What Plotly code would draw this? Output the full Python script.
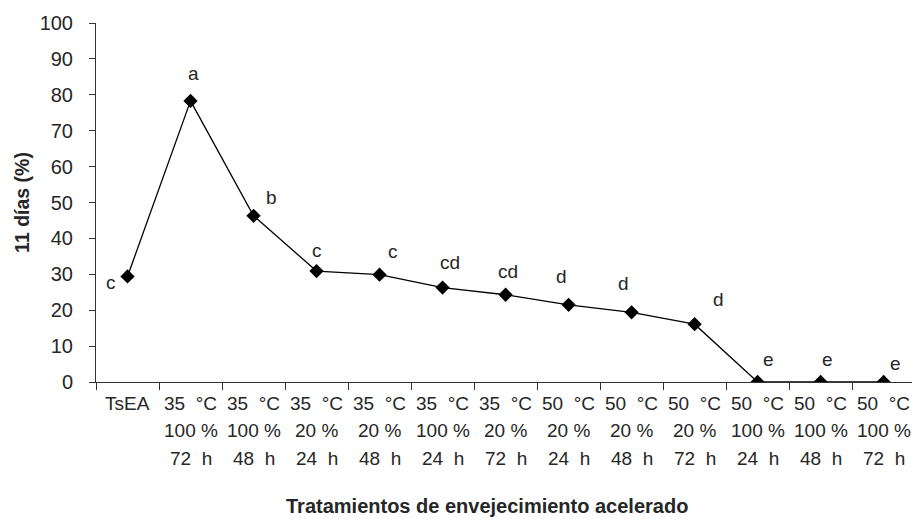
import plotly.graph_objects as go

categories = [
    ["TsEA", "", ""],
    ["35\u00a0\u00a0°C", "100\u00a0%", "72\u00a0\u00a0h"],
    ["35\u00a0\u00a0°C", "100\u00a0%", "48\u00a0\u00a0h"],
    ["35\u00a0\u00a0°C", "20\u00a0%", "24\u00a0\u00a0h"],
    ["35\u00a0\u00a0°C", "20\u00a0%", "48\u00a0\u00a0h"],
    ["35\u00a0\u00a0°C", "100\u00a0%", "24\u00a0\u00a0h"],
    ["35\u00a0\u00a0°C", "20\u00a0%", "72\u00a0\u00a0h"],
    ["50\u00a0\u00a0°C", "20\u00a0%", "24\u00a0\u00a0h"],
    ["50\u00a0\u00a0°C", "20\u00a0%", "48\u00a0\u00a0h"],
    ["50\u00a0\u00a0°C", "20\u00a0%", "72\u00a0\u00a0h"],
    ["50\u00a0\u00a0°C", "100\u00a0%", "24\u00a0\u00a0h"],
    ["50\u00a0\u00a0°C", "100\u00a0%", "48\u00a0\u00a0h"],
    ["50\u00a0\u00a0°C", "100\u00a0%", "72\u00a0\u00a0h"],
]
values = [29.4, 78.3, 46.3, 30.9, 29.9, 26.3, 24.3, 21.5, 19.4, 16.1, 0, 0, 0]
letters = ["c", "a", "b", "c", "c", "cd", "cd", "d", "d", "d", "e", "e", "e"]
y_ticks = [0, 10, 20, 30, 40, 50, 60, 70, 80, 90, 100]

# pixel offsets of the significance letters relative to their points (styling)
letter_dx = [-17, 3, 18, 0, 13, 7, 2, -7, -8, 24, 11, 7, 12]
letter_dy = [-6, 27, 18, 21, 23, 25, 23, 28, 29, 25, 23, 23, 19]

FONT = "Liberation Sans, Arial, sans-serif"
TXT = "#262626"

W, H = 912, 519
ML, MR, MT, MB = 96, 0, 23, 137

xs = list(range(len(values)))

fig = go.Figure()
fig.add_trace(go.Scatter(
    x=xs, y=values, mode="lines+markers",
    line=dict(color="#000000", width=1.3),
    marker=dict(symbol="diamond", size=11, color="#000000"),
    showlegend=False, hoverinfo="skip",
))

annotations = []
for i, (v, lt) in enumerate(zip(values, letters)):
    annotations.append(dict(
        x=i, y=v, xref="x", yref="y", text=lt, showarrow=False,
        xanchor="center", yanchor="middle",
        xshift=letter_dx[i], yshift=letter_dy[i],
        font=dict(family=FONT, size=19, color=TXT),
    ))

line_shifts = [-21, -48, -76]
for i, cat in enumerate(categories):
    for j, part in enumerate(cat):
        if not part:
            continue
        annotations.append(dict(
            x=i, y=0, xref="x", yref="paper", text=part, showarrow=False,
            xanchor="center", yanchor="middle", yshift=line_shifts[j],
            font=dict(family=FONT, size=19, color=TXT),
        ))

pw = W - ML - MR
ph = H - MT - MB
annotations.append(dict(
    x=(487 - ML) / pw, y=-(506 - (H - MB)) / ph, xref="paper", yref="paper",
    text="<b>Tratamientos de envejecimiento acelerado</b>",
    showarrow=False, xanchor="center", yanchor="middle",
    font=dict(family=FONT, size=20, color=TXT),
))

fig.update_layout(
    width=W, height=H,
    margin=dict(l=ML, r=MR, t=MT, b=MB),
    paper_bgcolor="white", plot_bgcolor="white",
    font=dict(family=FONT, color=TXT),
    annotations=annotations,
)

fig.update_xaxes(
    range=[-0.5, 12.45], showgrid=False, zeroline=False,
    showline=True, linecolor="#333333", linewidth=1,
    tickmode="array", tickvals=[k - 0.5 for k in range(len(values) + 1)],
    ticktext=[""] * (len(values) + 1),
    ticks="outside", ticklen=7, tickcolor="#333333", tickwidth=1,
)
fig.update_yaxes(
    range=[0, 100], showgrid=False, zeroline=False,
    showline=True, linecolor="#333333", linewidth=1,
    tickmode="array", tickvals=y_ticks,
    ticks="outside", ticklen=6, tickcolor="#333333", tickwidth=1,
    ticklabelstandoff=12,
    tickfont=dict(family=FONT, size=20, color=TXT),
    title=dict(text="<b>11 días (%)</b>", font=dict(family=FONT, size=19.5, color=TXT), standoff=4),
)

fig.write_html(
    "out.html",
    config={"displayModeBar": False},
    post_script="document.body.style.margin='0';document.body.style.overflow='hidden';",
)
